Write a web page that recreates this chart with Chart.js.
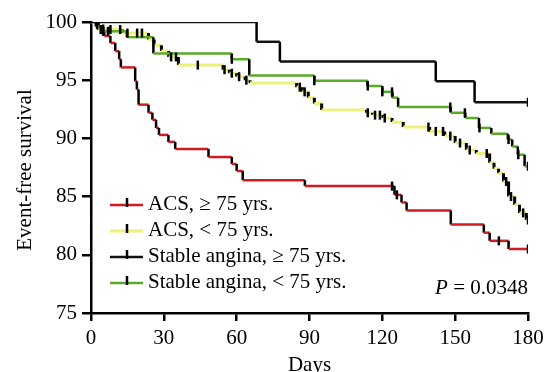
<!DOCTYPE html>
<html lang="en">
<head>
    <meta charset="UTF-8">
    <title>Event-free survival</title>
    <script src="https://cdn.jsdelivr.net/npm/chart.js"></script>
    <style>
        body { margin: 0; background: #fff; }
        .chart-box { position: relative; width: 553px; height: 372px; }
    </style>
</head>
<body>
    <div class="chart-box">
        <canvas id="kmChart"></canvas>
    </div>

    <script>
        // Kaplan-Meier steps: time of each drop (days) and survival (%) from that time on
        const redTimes = [0, 2.5, 5.5, 8, 10, 11.6, 12.3, 18.2, 18.9, 19.6, 23.7, 25.3, 26.8, 28, 31.9, 34.7, 48.4, 58, 60, 62.5, 88.1, 125, 127.9, 130, 148.2, 161.8, 164.2, 172, 180];
        const redSurv = [100, 99.4, 98.8, 98.2, 97.5, 96.8, 96.1, 94.9, 94.2, 92.9, 92.2, 91.6, 90.9, 90.3, 89.7, 89.1, 88.4, 87.8, 87.2, 86.4, 85.9, 85.15, 84.5, 83.8, 82.6, 81.9, 81.2, 80.5, 80.5];
        const redCensor = [2, 5, 124, 126, 168, 180];

        const yellowTimes = [0, 3, 13, 23.7, 26, 29, 32, 36, 54.4, 57, 60, 63.5, 65.5, 84.7, 87, 89.5, 92, 95, 113.5, 116, 120.3, 124, 128.6, 139.5, 145.7, 150, 154.6, 158.7, 164.2, 166, 167.9, 169.9, 172, 174.5, 176.5, 179.3, 180];
        const yellowSurv = [100, 99.35, 99.05, 98.5, 98.0, 97.5, 97.0, 96.3, 95.9, 95.6, 95.3, 95.0, 94.75, 94.4, 94.0, 93.5, 93.0, 92.45, 92.2, 92.0, 91.75, 91.4, 90.97, 90.6, 90.2, 89.6, 89.0, 88.7, 87.9, 87.4, 87.0, 86.3, 85.0, 84.3, 83.6, 83.0, 83.0];
        const yellowCensor = [4, 8, 12, 15, 19, 21, 33, 35, 44, 55, 58, 61, 64, 86, 88, 114, 117, 119, 121, 139, 142, 145, 148, 152, 156, 163, 171, 173, 178, 180];

        const blackTimes = [0, 68.2, 77.8, 142, 158, 180];
        const blackSurv = [100, 98.3, 96.6, 94.9, 93.1, 93.1];
        const blackCensor = [180];

        const greenTimes = [0, 3, 5, 14.8, 25.7, 58, 65.2, 92, 113.9, 120, 124.2, 126.5, 148.2, 154.2, 159.8, 164.9, 171.7, 173.5, 175.8, 178.6, 180];
        const greenSurv = [100, 99.6, 99.2, 98.7, 97.3, 96.8, 95.4, 94.95, 94.5, 94.0, 93.5, 92.7, 92.2, 91.75, 90.9, 90.4, 89.9, 89.3, 88.6, 87.6, 87.6];
        const greenCensor = [5, 7, 58, 92, 114, 120, 124, 148, 154, 160, 172, 176, 180];

        const seriesNames = ['ACS, \u2265 75 yrs.', 'ACS, < 75 yrs.', 'Stable angina, \u2265 75 yrs.', 'Stable angina, < 75 yrs.'];
        const seriesColors = ['#d21a22', '#eef07c', '#111111', '#5aaa28'];

        const xTicks = [0, 30, 60, 90, 120, 150, 180];
        const yTicks = [75, 80, 85, 90, 95, 100];
        const pValue = '0.0348';

        const FONT = "'Liberation Serif', 'Times New Roman', serif";

        // turn drop times into step points (vertical + horizontal pieces)
        const toSteps = (times, surv) => {
            const pts = [];
            times.forEach((t, i) => {
                if (i > 0) pts.push({ x: t, y: surv[i - 1] });
                pts.push({ x: t, y: surv[i] });
            });
            return pts;
        };

        const survAt = (times, surv, t) => {
            let v = surv[0];
            times.forEach((tt, i) => { if (tt <= t) v = surv[i]; });
            return v;
        };

        const series = [
            [redTimes, redSurv, redCensor],
            [yellowTimes, yellowSurv, yellowCensor],
            [blackTimes, blackSurv, blackCensor],
            [greenTimes, greenSurv, greenCensor]
        ];

        const censorPoints = [];
        series.forEach(([t, s, c]) => c.forEach(ct => censorPoints.push({ x: ct, y: survAt(t, s, ct) })));

        // draw order: black on top, then green, yellow, red
        const drawOrder = [2, 3, 1, 0];
        const lineSets = drawOrder.map(i => ({
            label: seriesNames[i],
            data: toSteps(series[i][0], series[i][1]),
            borderColor: seriesColors[i],
            borderWidth: i === 1 ? 3 : 2.5,
            pointRadius: 0,
            fill: false,
            tension: 0,
            segment: {
                borderColor: ctx => ctx.p0.parsed.x === ctx.p1.parsed.x ? '#000' : seriesColors[i]
            }
        }));

        const overlay = {
            id: 'overlay',
            afterDraw(chart) {
                const ctx = chart.ctx;
                const area = chart.chartArea;
                ctx.save();
                ctx.fillStyle = '#000';
                ctx.font = `21px ${FONT}`;

                // legend
                const rowY = [205, 231, 257, 283];
                seriesNames.forEach((name, i) => {
                    const y = rowY[i];
                    ctx.strokeStyle = seriesColors[i];
                    ctx.lineWidth = i === 1 ? 3 : 2.5;
                    ctx.beginPath();
                    ctx.moveTo(110, y);
                    ctx.lineTo(143, y);
                    ctx.stroke();
                    ctx.strokeStyle = '#000';
                    ctx.lineWidth = 2.5;
                    ctx.beginPath();
                    ctx.moveTo(127, y - 7);
                    ctx.lineTo(127, y + 2);
                    ctx.stroke();
                    ctx.textAlign = 'left';
                    ctx.textBaseline = 'middle';
                    ctx.fillText(name, 148, y - 1);
                });

                // P value
                ctx.textBaseline = 'middle';
                ctx.textAlign = 'right';
                const rest = ' = ' + pValue;
                ctx.fillText(rest, area.right, 288);
                const restW = ctx.measureText(rest).width;
                ctx.font = `italic 21px ${FONT}`;
                ctx.fillText('P', area.right - restW, 288);

                // axis titles
                ctx.font = `21px ${FONT}`;
                ctx.textAlign = 'center';
                ctx.textBaseline = 'alphabetic';
                ctx.fillText('Days', (area.left + area.right) / 2, 371);

                ctx.translate(25, 170);
                ctx.rotate(-Math.PI / 2);
                ctx.textBaseline = 'middle';
                ctx.fillText('Event-free survival', 0, 0);
                ctx.restore();
            }
        };

        new Chart(document.getElementById('kmChart'), {
            type: 'line',
            data: {
                datasets: [{
                    label: 'censored',
                    data: censorPoints,
                    showLine: false,
                    pointStyle: 'line',
                    rotation: 90,
                    pointRadius: 4.5,
                    borderColor: '#000',
                    borderWidth: 2.5,
                    pointBorderWidth: 2.5
                }, ...lineSets]
            },
            options: {
                responsive: true,
                maintainAspectRatio: false,
                animation: false,
                layout: { padding: { top: 22, right: 25, bottom: 0, left: 0 } },
                plugins: {
                    legend: { display: false },
                    tooltip: { enabled: false }
                },
                scales: {
                    x: {
                        type: 'linear',
                        min: 0,
                        max: 180,
                        afterBuildTicks: s => { s.ticks = xTicks.map(v => ({ value: v })); },
                        afterFit: s => { s.height = 59; },
                        ticks: { color: '#000', font: { family: FONT, size: 21 }, padding: 5, maxRotation: 0 },
                        grid: { drawOnChartArea: false, tickLength: 8, color: '#000', lineWidth: 2.5 },
                        border: { color: '#000', width: 2.5 }
                    },
                    y: {
                        min: 75,
                        max: 100,
                        afterBuildTicks: s => { s.ticks = yTicks.map(v => ({ value: v })); },
                        afterFit: s => { s.width = 91; },
                        ticks: { color: '#000', font: { family: FONT, size: 21 }, padding: 5 },
                        grid: { drawOnChartArea: false, tickLength: 9, color: '#000', lineWidth: 2.5 },
                        border: { color: '#000', width: 2.5 }
                    }
                }
            },
            plugins: [overlay]
        });
    </script>
</body>
</html>
